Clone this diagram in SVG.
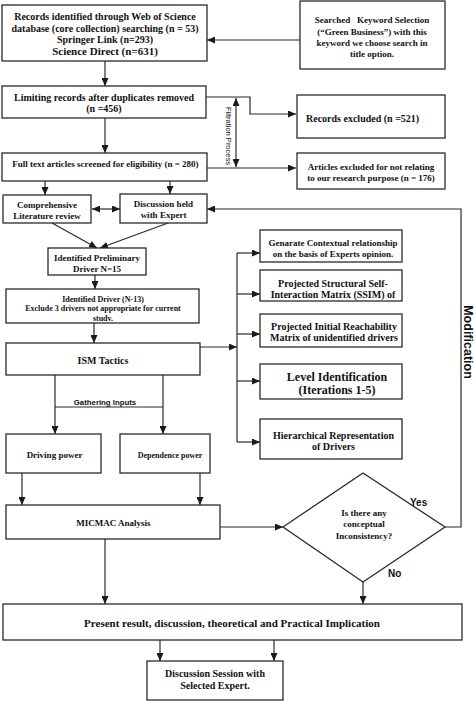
<svg xmlns="http://www.w3.org/2000/svg" width="474" height="701" viewBox="0 0 474 701">
<defs>
<marker id="ah" markerUnits="userSpaceOnUse" markerWidth="8" markerHeight="7" refX="8" refY="3.5" orient="auto-start-reverse">
<path d="M0,0 L8,3.5 L0,7 z" fill="#1a1a1a"/>
</marker>
</defs>
<style>
.b{fill:#fff;stroke:#2a2a2a;stroke-width:1.3}
.t{font-family:"Liberation Serif","Times New Roman",serif;font-weight:bold;fill:#111;text-anchor:middle}
.st{text-anchor:start}
.s{font-family:"Liberation Sans",Arial,sans-serif;fill:#111}
.c{fill:none;stroke:#2a2a2a;stroke-width:1.2}
.a{marker-end:url(#ah)}
</style>
<rect width="474" height="701" fill="#fff"/>

<g id="connectors">
<path class="c a" d="M300,40 H207"/>
<path class="c a" d="M105,61 V86"/>
<path class="c a" d="M206,97 H250 V114 H296"/>
<path class="c a" d="M236,98 V167" marker-start="url(#ah)"/>
<path class="c a" d="M105,118 V153"/>
<path class="c a" d="M207,168 H296"/>
<path class="c a" d="M45,181 V195"/>
<path class="c a" d="M170,181 V194"/>
<path class="c a" d="M92,209 H120" marker-start="url(#ah)"/>
<path class="c a" d="M445,527 H461 V209 H207"/>
<path class="c a" d="M52,223 L97,248"/>
<path class="c a" d="M168,223 L100,248"/>
<path class="c a" d="M95,275 V289"/>
<path class="c a" d="M94,323 V343"/>
<path class="c a" d="M200,347 H237"/>
<path class="c" d="M237,253 V442"/>
<path class="c a" d="M237,253 H260"/>
<path class="c a" d="M237,294 H260"/>
<path class="c a" d="M237,334 H260"/>
<path class="c a" d="M237,381 H260"/>
<path class="c a" d="M237,442 H260"/>
<path class="c a" d="M55,375 V434"/>
<path class="c a" d="M163,375 V434"/>
<path class="c" d="M55,407 H163"/>
<path class="c a" d="M22,473 V505"/>
<path class="c a" d="M200,473 V505"/>
<path class="c a" d="M220,527 H283"/>
<path class="c a" d="M105,539 V604"/>
<path class="c a" d="M363,582 V604"/>
<path class="c a" d="M160,640 V661"/>
<path class="c a" d="M274,640 V661"/>
<text class="s" font-size="7.5" transform="translate(226,136) rotate(90)" text-anchor="middle">Filtration Process</text>
<text class="s" font-size="7.8" font-weight="bold" x="105" y="405" text-anchor="middle">Gathering Inputs</text>
<text class="s" font-size="12.5" font-weight="bold" transform="translate(464,342) rotate(90)" text-anchor="middle">Modification</text>
<text class="s" font-size="10" font-weight="bold" x="410" y="506">Yes</text>
<text class="s" font-size="10" font-weight="bold" x="388" y="577">No</text>
</g>

<g id="records">
<rect class="b" x="2" y="5" width="205" height="56"/>
<text class="t" font-size="10" x="105" y="19.5">Records identified through Web of Science</text>
<text class="t" font-size="10" x="105" y="31.5">database (core collection) searching (n = 53)</text>
<text class="t" font-size="10" x="105" y="42.5">Springer Link (n=293)</text>
<text class="t" font-size="11" x="105" y="55">Science Direct (n=631)</text>
</g>

<g id="keyword">
<rect class="b" x="300" y="1" width="145" height="68"/>
<text class="t" font-size="9" x="372" y="23" xml:space="preserve">Searched   Keyword Selection</text>
<text class="t" font-size="9" x="372" y="35">(“Green Business”) with this</text>
<text class="t" font-size="9" x="372" y="46">keyword we choose search in</text>
<text class="t" font-size="9" x="372" y="57">title option.</text>
</g>

<g id="limiting">
<rect class="b" x="2" y="86" width="204" height="32"/>
<text class="t" font-size="10" x="104" y="100.5">Limiting records after duplicates removed</text>
<text class="t" font-size="10" x="104" y="111.5">(n =456)</text>
</g>

<g id="excluded">
<rect class="b" x="297" y="95" width="148" height="43"/>
<text class="t st" font-size="10" x="306" y="121.5">Records excluded (n =521)</text>
</g>

<g id="fulltext">
<rect class="b" x="2" y="153" width="205" height="28"/>
<text class="t" font-size="9" x="105.5" y="167">Full text articles screened for eligibility (n = 280)</text>
</g>

<g id="articles">
<rect class="b" x="297" y="153" width="148" height="36"/>
<text class="t" font-size="9" x="371" y="170">Articles excluded for not relating</text>
<text class="t" font-size="9" x="371" y="181">to our research purpose (n = 176)</text>
</g>

<g id="literature">
<rect class="b" x="3" y="195" width="88" height="28"/>
<text class="t" font-size="9" x="47" y="208">Comprehensive</text>
<text class="t" font-size="9" x="47" y="219">Literature review</text>
</g>

<g id="expert">
<rect class="b" x="120" y="194" width="87" height="29"/>
<text class="t" font-size="9" x="163.5" y="207">Discussion held</text>
<text class="t" font-size="9" x="163.5" y="217.5">with Expert</text>
</g>

<g id="preliminary">
<rect class="b" x="48" y="248" width="98" height="27"/>
<text class="t" font-size="9" x="97" y="261">Identified Preliminary</text>
<text class="t" font-size="9" x="97" y="272">Driver N=15</text>
</g>

<g id="driver">
<rect class="b" x="6" y="289" width="193" height="34"/>
<text class="t" font-size="8" x="103" y="302">Identified Driver (N-13)</text>
<text class="t" font-size="8" x="103" y="311">Exclude 3 drivers not appropriate for current</text>
<text class="t" font-size="8" x="103" y="321">studv.</text>
</g>

<g id="ism">
<rect class="b" x="6" y="343" width="194" height="32"/>
<text class="t" font-size="10" x="103" y="363.5">ISM Tactics</text>
</g>

<g id="contextual">
<rect class="b" x="260" y="230" width="142" height="32"/>
<text class="t" font-size="9" x="333" y="246">Genarate Contextual relationship</text>
<text class="t" font-size="9" x="333" y="257">on the basis of Experts opinion.</text>
</g>

<g id="ssim">
<rect class="b" x="260" y="270" width="142" height="31"/>
<text class="t" font-size="10" x="333" y="286.5">Projected Structural Self-</text>
<text class="t" font-size="10" x="333" y="297.5">Interaction Matrix (SSIM) of</text>
</g>

<g id="reachability">
<rect class="b" x="260" y="314" width="142" height="33"/>
<text class="t" font-size="10" x="334" y="329.5">Projected Initial Reachability</text>
<text class="t" font-size="10" x="334" y="340.5">Matrix of unidentified drivers</text>
</g>

<g id="level">
<rect class="b" x="260" y="364" width="142" height="35"/>
<text class="t" font-size="12" x="337" y="381">Level Identification</text>
<text class="t" font-size="12" x="337" y="393.5">(Iterations 1-5)</text>
</g>

<g id="hierarchical">
<rect class="b" x="260" y="419" width="142" height="40"/>
<text class="t" font-size="10" x="333.5" y="438.5">Hierarchical Representation</text>
<text class="t" font-size="10" x="333.5" y="449.5">of Drivers</text>
</g>

<g id="driving">
<rect class="b" x="6" y="434" width="95" height="39"/>
<text class="t" font-size="9" x="54.5" y="458">Driving power</text>
</g>

<g id="dependence">
<rect class="b" x="120" y="434" width="90" height="39"/>
<text class="t" font-size="8" x="170" y="457.5">Dependence power</text>
</g>

<g id="micmac">
<rect class="b" x="6" y="505" width="214" height="34"/>
<text class="t" font-size="9" x="113.5" y="526">MICMAC Analysis</text>
</g>

<g id="decision">
<polygon class="b" points="283,527 363,473 445,527 363,582"/>
<text class="t" font-size="9" x="364" y="516">Is there any</text>
<text class="t" font-size="9" x="364" y="527">conceptual</text>
<text class="t" font-size="9" x="364" y="539">Inconsistency?</text>
</g>

<g id="present">
<rect class="b" x="3" y="604" width="459" height="36"/>
<text class="t" font-size="11" x="232" y="627">Present result, discussion, theoretical and Practical Implication</text>
</g>

<g id="session">
<rect class="b" x="147" y="661" width="136" height="39"/>
<text class="t" font-size="10" x="215" y="676.5">Discussion Session with</text>
<text class="t" font-size="10" x="215" y="688.5">Selected Expert.</text>
</g>
</svg>
